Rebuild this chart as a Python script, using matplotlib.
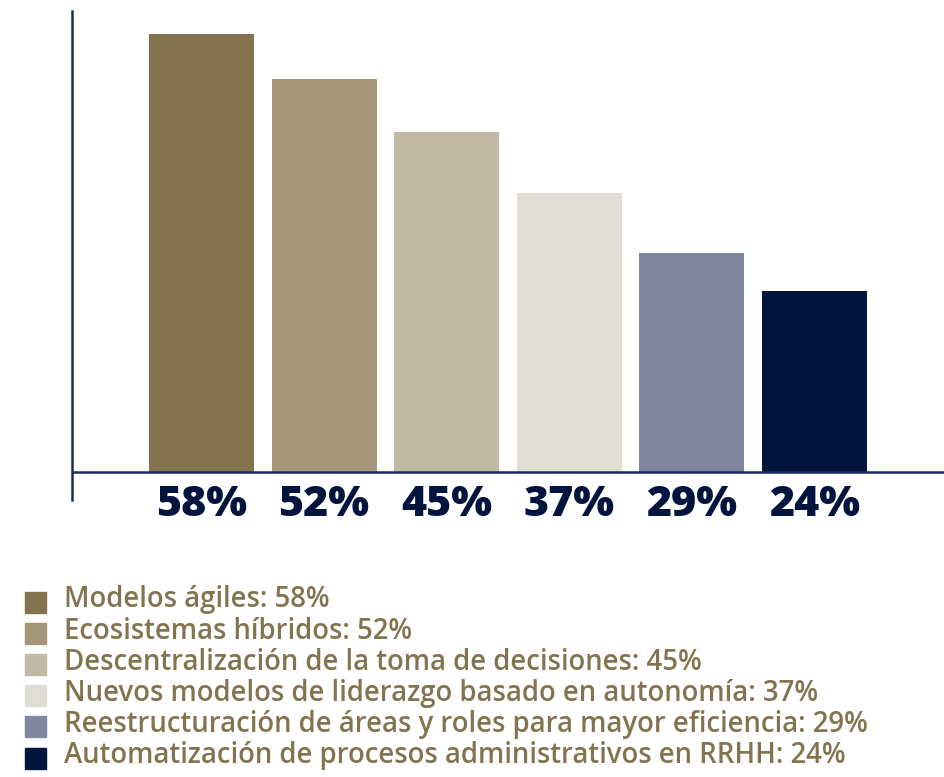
import matplotlib
matplotlib.use("Agg")
import matplotlib.pyplot as plt
from matplotlib.patches import Rectangle

categories = [
    "Modelos ágiles",
    "Ecosistemas híbridos",
    "Descentralización de la toma de decisiones",
    "Nuevos modelos de liderazgo basado en autonomía",
    "Reestructuración de áreas y roles para mayor eficiencia",
    "Automatización de procesos administrativos en RRHH",
]
values = [58, 52, 45, 37, 29, 24]
bar_colors = ["#83744F", "#A39679", "#C1B9A6", "#E0DED4", "#7F87A0", "#00143E"]
navy = "#00143E"
legend_text_color = "#83744F"

W, H = 944, 777
fig = plt.figure(figsize=(W / 100, H / 100), dpi=100)

# axes area in pixels: left 72, right 944, top 11, bottom 500
ax_left, ax_right, ax_top, ax_bottom = 72, 944, 11, 500
ax = fig.add_axes([ax_left / W, 1 - ax_bottom / H,
                   (ax_right - ax_left) / W, (ax_bottom - ax_top) / H])

px_per_unit = 7.55
baseline = 472
ax.set_ylim(-(ax_bottom - baseline) / px_per_unit, (baseline - ax_top) / px_per_unit)

spacing = 122.6
first_center = 201.5 - ax_left
xs = [(first_center + i * spacing) for i in range(len(values))]
ax.set_xlim(0, ax_right - ax_left)
ax.bar(xs, values, width=105, color=bar_colors, zorder=2)

for x, v in zip(xs, values):
    ax.text(x, -1.6, f"{v}%", ha="center", va="top", fontsize=31,
            fontweight=800, color=navy, family=["Open Sans", "DejaVu Sans"])

ax.axhline(0, color="#1B2A5A", lw=1.8, zorder=3)
for s in ["top", "right", "bottom"]:
    ax.spines[s].set_visible(False)
ax.spines["left"].set_color("#1B2A5A")
ax.spines["left"].set_linewidth(1.8)
ax.set_xticks([])
ax.set_yticks([])
ax.patch.set_alpha(0)

# legend
row_y0 = 601
row_step = 31.2
for i, (cat, v, c) in enumerate(zip(categories, values, bar_colors)):
    yc = row_y0 + i * row_step
    sq = 21
    fig.patches.append(Rectangle((25 / W, 1 - (yc + sq / 2 + 1) / H), sq / W, sq / H,
                                 transform=fig.transFigure, color=c))
    fig.text(64 / W, 1 - (yc - 1) / H, f"{cat}: {v}%", ha="left", va="center",
             fontsize=19.8, fontweight="semibold", color=legend_text_color,
             family=["Open Sans", "DejaVu Sans"])

fig.savefig("out.png", dpi=100, facecolor="white")
